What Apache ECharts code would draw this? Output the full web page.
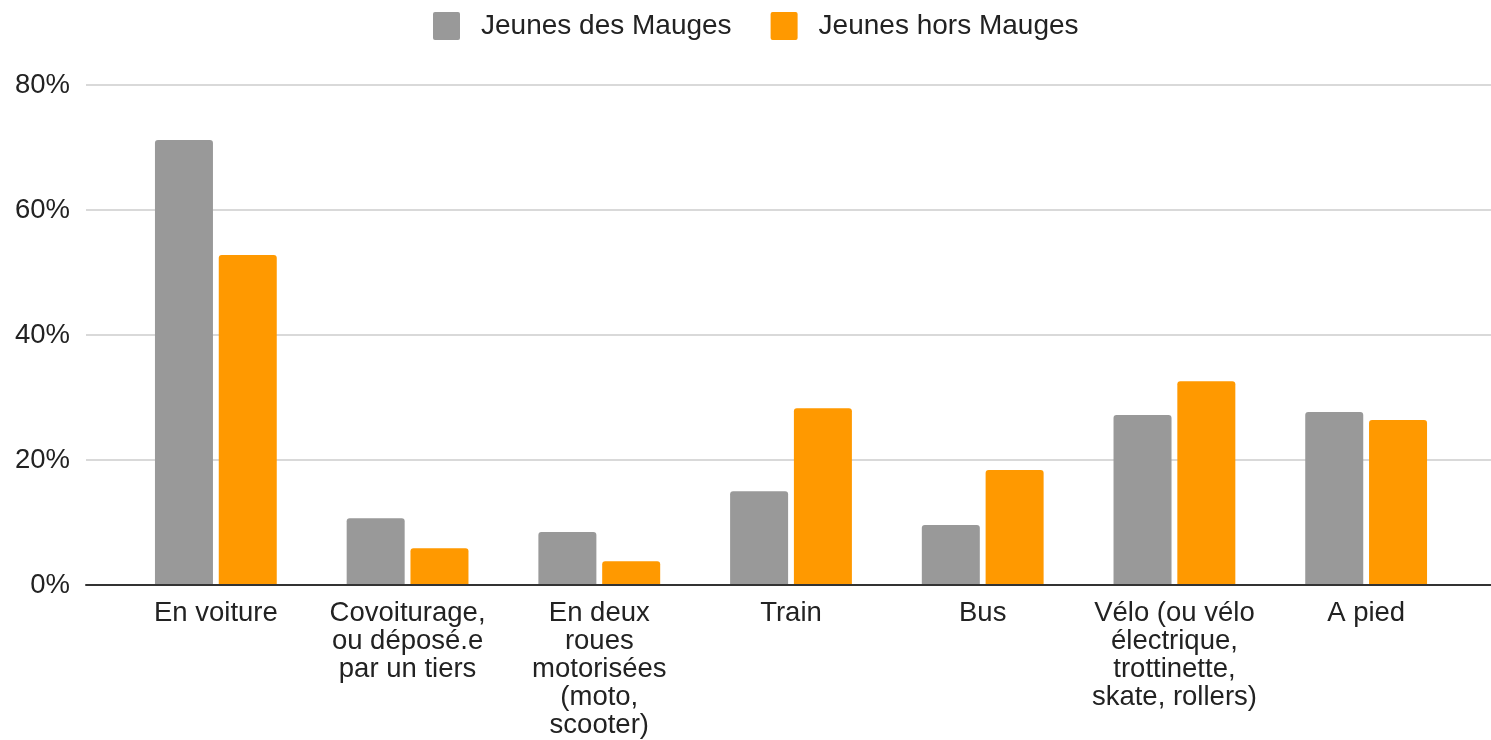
<!DOCTYPE html>
<html>
<head>
<meta charset="utf-8">
<title>Modes de déplacement des jeunes</title>
<script src="https://cdn.jsdelivr.net/npm/echarts@6/dist/echarts.min.js"></script>
<style>
  html, body { margin: 0; padding: 0; background: #ffffff; }
  #chart { width: 1491px; height: 740px; }
</style>
</head>
<body>
<div id="chart"></div>
<script>
// Transport modes (line breaks as shown under each group)
const categories = [
  'En voiture',
  'Covoiturage,\nou déposé.e\npar un tiers',
  'En deux\nroues\nmotorisées\n(moto,\nscooter)',
  'Train',
  'Bus',
  'Vélo (ou vélo\nélectrique,\ntrottinette,\nskate, rollers)',
  'A pied'
];

const seriesNames = ['Jeunes des Mauges', 'Jeunes hors Mauges'];

// Share of respondents, in percent
const mauges = [71.2, 10.7, 8.5, 15.0, 9.6, 27.2, 27.7];
const horsMauges = [52.8, 5.9, 3.8, 28.3, 18.4, 32.6, 26.4];

const yTicks = { min: 0, max: 80, interval: 20 };

const FONT = '"Liberation Sans", Arial, sans-serif';
const TEXT = '#222222';

// Legend swatch: square with slightly rounded corners
const SWATCH = 'path://M2,0 H25 Q27,0 27,2 V26 Q27,28 25,28 H2 Q0,28 0,26 V2 Q0,0 2,0 Z';

const chart = echarts.init(document.getElementById('chart'), null, { renderer: 'canvas' });

chart.setOption({
  backgroundColor: '#ffffff',
  animation: false,
  legend: {
    top: 12,
    left: 433,
    padding: 0,
    itemWidth: 27,
    itemHeight: 28,
    itemGap: 39,
    icon: SWATCH,
    textStyle: { fontFamily: FONT, fontSize: 28, color: TEXT, padding: [0, 0, 0, 16] },
    data: seriesNames
  },
  grid: [
    // grid 0: gridlines, value labels and baseline spanning the full width
    { left: 86, right: 0, top: 85, bottom: 155 },
    // grid 1: the bar groups
    { left: 120, right: 29, top: 85, bottom: 155 }
  ],
  xAxis: [
    {
      type: 'value', gridIndex: 0, min: 0, max: 1, z: 10,
      axisLine: { show: true, lineStyle: { color: '#333333', width: 2 } },
      axisTick: { show: false }, axisLabel: { show: false }, splitLine: { show: false }
    },
    {
      type: 'category', gridIndex: 1, data: categories,
      axisLine: { show: false }, axisTick: { show: false },
      axisLabel: {
        interval: 0, margin: 14, fontFamily: FONT, fontSize: 27.5,
        lineHeight: 28, color: TEXT, align: 'center'
      }
    }
  ],
  yAxis: [
    {
      type: 'value', gridIndex: 0, min: yTicks.min, max: yTicks.max, interval: yTicks.interval,
      axisLine: { show: false }, axisTick: { show: false },
      axisLabel: { formatter: '{value}%', margin: 16, fontFamily: FONT, fontSize: 27.5, color: TEXT },
      splitLine: { show: true, lineStyle: { color: '#cccccc', width: 1.5 } }
    },
    {
      type: 'value', gridIndex: 1, min: yTicks.min, max: yTicks.max, interval: yTicks.interval,
      show: false, splitLine: { show: false }
    }
  ],
  series: [
    {
      name: seriesNames[0], type: 'bar', xAxisIndex: 1, yAxisIndex: 1,
      data: mauges, barWidth: 58, barGap: '10%',
      itemStyle: { color: '#999999', borderRadius: [3, 3, 0, 0] }
    },
    {
      name: seriesNames[1], type: 'bar', xAxisIndex: 1, yAxisIndex: 1,
      data: horsMauges, barWidth: 58, barGap: '10%',
      itemStyle: { color: '#ff9900', borderRadius: [3, 3, 0, 0] }
    }
  ]
});
</script>
</body>
</html>
